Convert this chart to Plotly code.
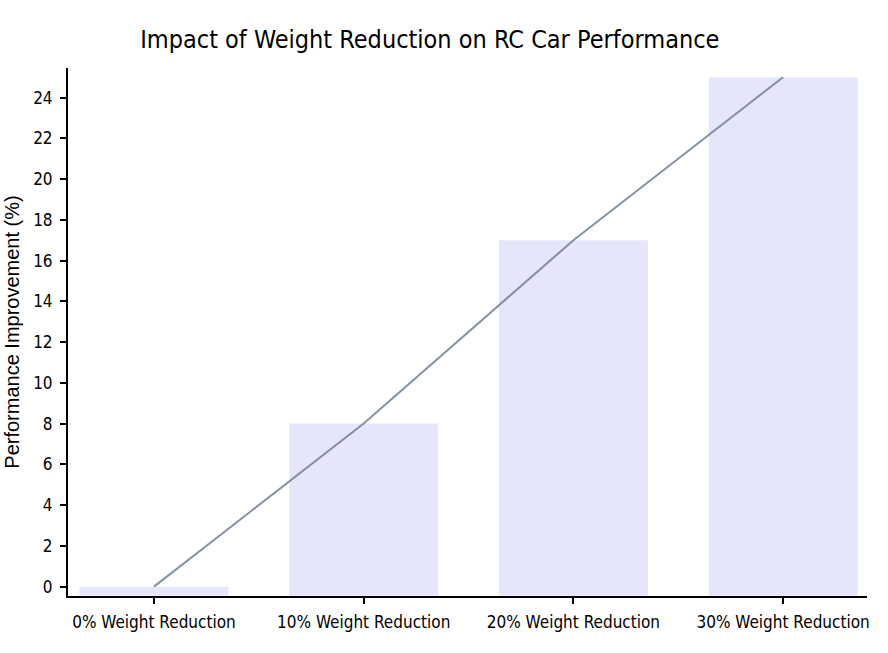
import plotly.graph_objects as go

categories = ["0% Weight Reduction", "10% Weight Reduction", "20% Weight Reduction", "30% Weight Reduction"]
improvement = [0, 8, 17, 25]
y_ticks = list(range(0, 26, 2))

FONT = "DejaVu Sans Condensed, DejaVu Sans, sans-serif"

fig = go.Figure()
fig.add_trace(go.Bar(
    x=categories, y=[v + 0.45 for v in improvement], base=-0.45,
    marker=dict(color="#E6E6FA", line=dict(width=0)),
    width=0.71, showlegend=False, hoverinfo="skip",
))
fig.add_trace(go.Scatter(
    x=categories, y=improvement, mode="lines",
    line=dict(color="#778899", width=2), opacity=0.9, showlegend=False,
))

fig.update_layout(
    width=888, height=653,
    margin=dict(l=68, r=21, t=68, b=57),
    paper_bgcolor="white", plot_bgcolor="white",
    title=dict(text="Impact of Weight Reduction on RC Car Performance",
               x=0.484, xanchor="center", y=0.94, yanchor="middle",
               font=dict(family=FONT, size=25, color="black")),
    font=dict(family=FONT, color="black"),
    xaxis=dict(range=[-0.41, 3.40], showgrid=False, zeroline=False,
               showline=True, linecolor="black", linewidth=2,
               ticks="outside", ticklen=6, tickwidth=2, tickcolor="black",
               ticklabelstandoff=4,
               tickfont=dict(family=FONT, size=17, color="black")),
    yaxis=dict(range=[-0.46, 25.45], showgrid=False, zeroline=False,
               showline=True, linecolor="black", linewidth=2,
               ticks="outside", ticklen=6, tickwidth=2, tickcolor="black",
               tickvals=y_ticks, ticklabelstandoff=4,
               tickfont=dict(family=FONT, size=17, color="black"),
               title=dict(text="Performance Improvement (%)", standoff=8,
                          font=dict(family="Liberation Sans, Arial, sans-serif", size=20, color="black"))),
)

fig.write_html("out.html")
